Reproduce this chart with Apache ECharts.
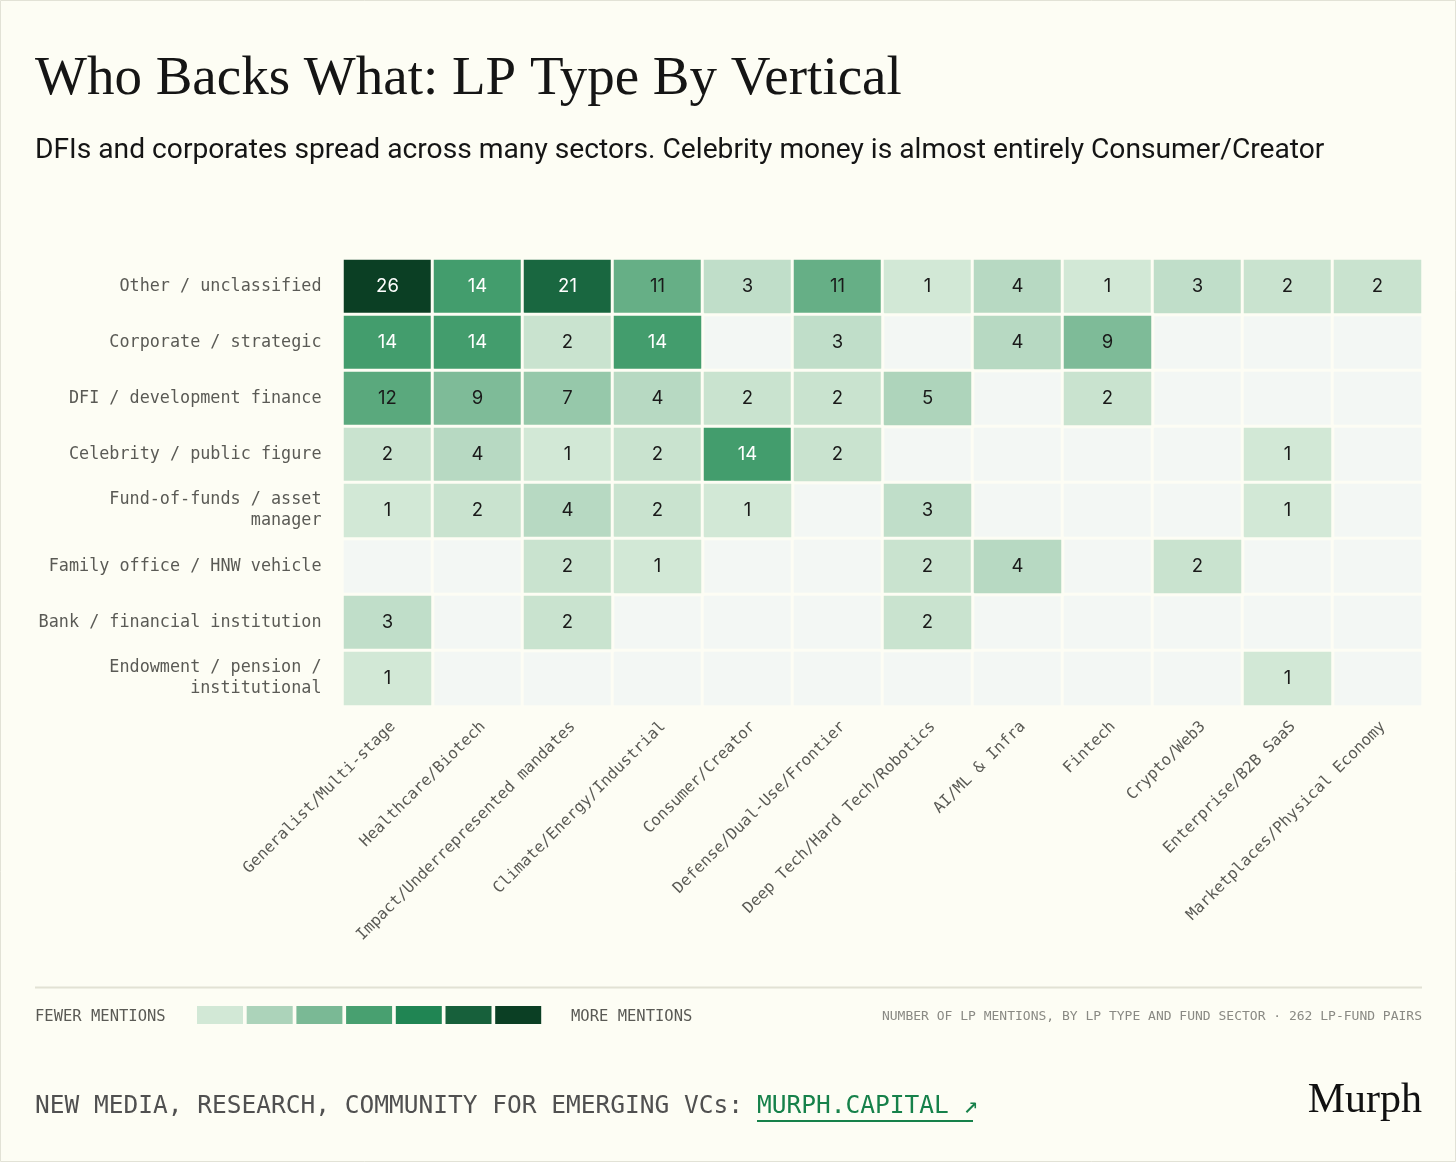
<!DOCTYPE html>
<html>
<head>
<meta charset="utf-8">
<script src="https://cdn.jsdelivr.net/npm/echarts@6/dist/echarts.min.js"></script>
<style>
  html, body { margin: 0; padding: 0; background: #fdfdf4; }
  #chart { width: 1456px; height: 1162px; }
</style>
</head>
<body>
<div id="chart"></div>
<script>
const sectors = [
  'Generalist/Multi-stage', 'Healthcare/Biotech', 'Impact/Underrepresented mandates',
  'Climate/Energy/Industrial', 'Consumer/Creator', 'Defense/Dual-Use/Frontier',
  'Deep Tech/Hard Tech/Robotics', 'AI/ML & Infra', 'Fintech', 'Crypto/Web3',
  'Enterprise/B2B SaaS', 'Marketplaces/Physical Economy'
];
const lpTypes = [
  'Other / unclassified', 'Corporate / strategic', 'DFI / development finance',
  'Celebrity / public figure', 'Fund-of-funds / asset\nmanager', 'Family office / HNW vehicle',
  'Bank / financial institution', 'Endowment / pension /\ninstitutional'
];
const otherUnclassified   = [26, 14, 21, 11, 3, 11, 1, 4, 1, 3, 2, 2];
const corporateStrategic  = [14, 14, 2, 14, 0, 3, 0, 4, 9, 0, 0, 0];
const dfiDevelopment      = [12, 9, 7, 4, 2, 2, 5, 0, 2, 0, 0, 0];
const celebrityPublic     = [2, 4, 1, 2, 14, 2, 0, 0, 0, 0, 1, 0];
const fundOfFunds         = [1, 2, 4, 2, 1, 0, 3, 0, 0, 0, 1, 0];
const familyOffice        = [0, 0, 2, 1, 0, 0, 2, 4, 0, 2, 0, 0];
const bankFinancial       = [3, 0, 2, 0, 0, 0, 2, 0, 0, 0, 0, 0];
const endowmentPension    = [1, 0, 0, 0, 0, 0, 0, 0, 0, 0, 1, 0];
const matrix = [otherUnclassified, corporateStrategic, dfiDevelopment, celebrityPublic,
                fundOfFunds, familyOffice, bankFinancial, endowmentPension];
const legendSteps = [1, 5, 9, 13, 17, 21, 26];

const scaleColors = ['#d2e8d6', '#acd3ba', '#7ab995', '#48a070', '#208553', '#17603b', '#0b3f24'];
const BG = '#fdfdf4';
const EMPTY = '#f3f7f4';
const MONO = '"DejaVu Sans Mono", "Liberation Mono", monospace';

const data = [];
const emptyCells = [];
matrix.forEach((row, r) => {
  row.forEach((v, c) => {
    if (v > 0) {
      data.push({ value: [c, r, v], label: { color: v >= 14 ? '#ffffff' : '#1a1a1a' } });
    } else {
      emptyCells.push([c, r, 0]);
    }
  });
});

const chart = echarts.init(document.getElementById('chart'), null, { renderer: 'canvas' });

const legendRects = legendSteps.map((v, i) => ({
  type: 'rect',
  shape: { x: 197 + i * 49.7, y: 1006, width: 46, height: 18 },
  style: { fill: scaleColors[i] }
}));

chart.setOption({
  backgroundColor: BG,
  animation: false,
  grid: { left: 342.5, top: 258.5, width: 1080, height: 448 },
  xAxis: {
    type: 'category',
    data: sectors,
    position: 'bottom',
    axisLine: { show: false },
    axisTick: { show: false },
    splitLine: { show: false },
    axisLabel: {
      rotate: 45, interval: 0, margin: 12, verticalAlign: 'top',
      fontFamily: MONO, fontSize: 15.7, color: '#5a5a55'
    }
  },
  yAxis: {
    type: 'category',
    data: lpTypes,
    inverse: true,
    axisLine: { show: false },
    axisTick: { show: false },
    splitLine: { show: false },
    axisLabel: {
      margin: 21, fontFamily: MONO, fontSize: 16.8, color: '#5a5a55',
      lineHeight: 21, align: 'right'
    }
  },
  visualMap: {
    show: false,
    type: 'continuous',
    min: 1, max: 26,
    dimension: 2,
    seriesIndex: 1,
    inRange: { color: scaleColors }
  },
  series: [{
    type: 'heatmap',
    data: emptyCells,
    itemStyle: { color: EMPTY, borderColor: BG, borderWidth: 3 },
    label: { show: false },
    emphasis: { disabled: true }
  }, {
    type: 'heatmap',
    data: data,
    itemStyle: { borderColor: BG, borderWidth: 3 },
    label: {
      show: true,
      fontFamily: 'Inter, "Noto Sans", sans-serif',
      fontSize: 18.5,
      formatter: p => String(p.value[2])
    },
    emphasis: { disabled: true }
  }],
  graphic: [
    { type: 'rect', shape: { x: 0.5, y: 0.5, width: 1455, height: 1161 },
      style: { fill: 'none', stroke: '#e2e2d6', lineWidth: 1 } },
    { type: 'text', left: 35, top: 52,
      style: { text: 'Who Backs What: LP Type By Vertical', fontFamily: '"Liberation Serif", "DejaVu Serif", serif',
               fontSize: 55, fill: '#151515' } },
    { type: 'text', left: 35, top: 137,
      style: { text: 'DFIs and corporates spread across many sectors. Celebrity money is almost entirely Consumer/Creator',
               fontFamily: 'Roboto, sans-serif', fontSize: 28.2, fill: '#151515' } },
    { type: 'line', shape: { x1: 35, y1: 987.5, x2: 1422, y2: 987.5 },
      style: { stroke: '#e2e2d4', lineWidth: 2 } },
    { type: 'text', left: 35, top: 1009,
      style: { text: 'FEWER MENTIONS', fontFamily: MONO, fontSize: 15.5, fill: '#5a5a55' } },
    ...legendRects,
    { type: 'text', left: 571, top: 1009,
      style: { text: 'MORE MENTIONS', fontFamily: MONO, fontSize: 15.5, fill: '#5a5a55' } },
    { type: 'text', right: 34, top: 1010,
      style: { text: 'NUMBER OF LP MENTIONS, BY LP TYPE AND FUND SECTOR · 262 LP-FUND PAIRS',
               fontFamily: MONO, fontSize: 13, fill: '#8a8a84' } },
    { type: 'text', left: 35, top: 1094,
      style: { text: 'NEW MEDIA, RESEARCH, COMMUNITY FOR EMERGING VCs: ', fontFamily: MONO,
               fontSize: 24.5, fill: '#505050' } },
    { type: 'text', left: 757, top: 1094,
      style: { text: 'MURPH.CAPITAL ↗', fontFamily: MONO, fontSize: 24.5, fill: '#16814a' } },
    { type: 'rect', shape: { x: 757, y: 1120, width: 216, height: 2 },
      style: { fill: '#16814a' } },
    { type: 'text', right: 34, top: 1080,
      style: { text: 'Murph', fontFamily: '"Liberation Serif", "DejaVu Serif", serif',
               fontSize: 42, fill: '#111111' } }
  ]
});
</script>
</body>
</html>
